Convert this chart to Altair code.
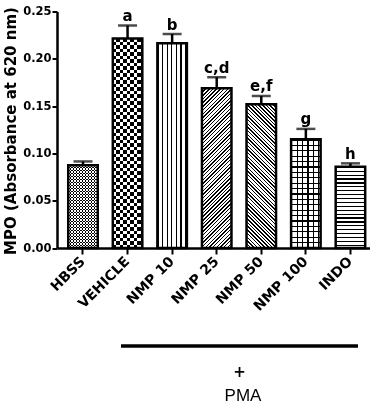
import math
import altair as alt
import pandas as pd

# ---- data -------------------------------------------------------------
groups = ["HBSS", "VEHICLE", "NMP 10", "NMP 25", "NMP 50", "NMP 100", "INDO"]
mpo = [0.0875, 0.2215, 0.2164, 0.1688, 0.1519, 0.1149, 0.0859]
sem = [0.0040, 0.0137, 0.0098, 0.0117, 0.0088, 0.0110, 0.0036]
letters = ["", "a", "b", "c,d", "e,f", "g", "h"]
y_ticks = [0.00, 0.05, 0.10, 0.15, 0.20, 0.25]

# ---- geometry / style -------------------------------------------------
Y_MAX = 0.25
W, H = 313, 236.5
PAD_INNER, PAD_OUTER, ALIGN = 0.338, 0.18, 0.70
STEP = W / (len(groups) - PAD_INNER + 2 * PAD_OUTER)
BW = STEP * (1 - PAD_INNER)
FONT = "DejaVu Sans"

df = pd.DataFrame({
    "group": groups,
    "mpo": mpo,
    "sem": sem,
    "letter": letters,
})
df["top"] = df["mpo"] + df["sem"]


def stripes(w, h, nx, ny, period, dark, ink="black", paper="white"):
    """Hard-edged linear gradient drawing parallel stripes over a w x h box.

    (nx, ny) is the stripe normal in pixel space; the gradient vector is
    expressed in bounding-box units so the stripes keep their angle.
    """
    n = math.hypot(nx, ny)
    nx, ny = nx / n, ny / n
    corners = [0.0, w * nx, h * ny, w * nx + h * ny]
    smin, smax = min(corners), max(corners)
    span = smax - smin
    gx, gy = w * nx / span, h * ny / span
    g2 = gx * gx + gy * gy
    k = (smin / span) / g2
    x1, y1 = gx * k, gy * k
    x2, y2 = x1 + gx / g2, y1 + gy / g2
    stops = []
    s = smin
    while s < smax:
        a = (s - smin) / span
        b = min((s + dark - smin) / span, 1.0)
        c = min((s + period - smin) / span, 1.0)
        stops += [(a, ink), (b, ink), (b, paper), (c, paper)]
        s += period
    return {
        "gradient": "linear",
        "x1": round(x1, 6), "y1": round(y1, 6),
        "x2": round(x2, 6), "y2": round(y2, 6),
        "stops": [{"offset": round(o, 6), "color": col} for o, col in stops],
    }


# fill layers for each bar: list of (gradient, blend)
def fills_for(name, h):
    w = BW
    if name == "HBSS":      # fine checkerboard
        return [(stripes(w, h, 0, 1, 3.0, 1.5), None),
                (stripes(w, h, 1, 0, 3.0, 1.5, ink="white", paper="black"), "difference")]
    if name == "VEHICLE":   # coarse checkerboard
        return [(stripes(w, h, 0, 1, 7.0, 3.5), None),
                (stripes(w, h, 1, 0, 7.0, 3.5, ink="white", paper="black"), "difference")]
    if name == "NMP 10":    # vertical lines
        return [(stripes(w, h, 1, 0, 4.6, 1.3), None)]
    if name == "NMP 25":    # "/" hatching
        return [(stripes(w, h, 1, 1, 2.6, 1.0), None)]
    if name == "NMP 50":    # "\" hatching
        return [(stripes(w, h, 1, -1, 2.6, 1.0), None)]
    if name == "NMP 100":   # square grid
        return [(stripes(w, h, 1, 0, 5.4, 1.2), None),
                (stripes(w, h, 0, 1, 5.4, 1.2, ink="black", paper="white"), "multiply")]
    # INDO: horizontal lines
    return [(stripes(w, h, 0, 1, 3.9, 1.2), None)]


x_axis = alt.Axis(
    title=None, labelAngle=315, labelAlign="right", labelBaseline="middle",
    labelFont=FONT, labelFontWeight="bold", labelFontSize=14, labelColor="black",
    labelPadding=5, tickSize=6, tickWidth=2, tickColor="black",
    domainColor="black", domainWidth=2.5, grid=False,
)
y_axis = alt.Axis(
    values=y_ticks, format=".2f",
    labelFont=FONT, labelFontWeight="bold", labelFontSize=11.5, labelColor="black",
    labelPadding=1, tickSize=5, tickWidth=2, tickColor="black",
    domainColor="black", domainWidth=2.5, grid=False,
    title="MPO (Absorbance at 620 nm)", titleFont=FONT, titleFontWeight="bold",
    titleFontSize=15, titleColor="black", titleAngle=270, titleAlign="center",
    titleBaseline="alphabetic", titleX=-42, titleY=119,
)

x_enc = alt.X("group:N", sort=groups,
              scale=alt.Scale(domain=groups, paddingInner=PAD_INNER,
                              paddingOuter=PAD_OUTER, align=ALIGN),
              axis=x_axis)
y_scale = alt.Scale(domain=[0, Y_MAX], nice=False)

base = alt.Chart(df)
layers = []
for name, value in zip(groups, mpo):
    h = value / Y_MAX * H
    for grad, blend in fills_for(name, h):
        kw = {"fill": grad, "strokeWidth": 0}
        if blend:
            kw["blend"] = blend
        layers.append(
            base.transform_filter(alt.datum.group == name)
            .mark_bar(**kw)
            .encode(x=x_enc, y=alt.Y("mpo:Q", scale=y_scale, axis=y_axis))
        )

outline = base.mark_bar(fill="white", fillOpacity=0, stroke="black", strokeWidth=2.5).encode(
    x=x_enc, y=alt.Y("mpo:Q", scale=y_scale, axis=y_axis))
err = base.mark_rule(color="black", strokeWidth=2.5).encode(
    x=x_enc, y=alt.Y("mpo:Q", scale=y_scale, axis=y_axis), y2="top:Q")
cap = base.mark_tick(color="black", thickness=2.5, size=19).encode(
    x=x_enc, y=alt.Y("top:Q", scale=y_scale, axis=y_axis))
lbl = base.mark_text(font=FONT, fontWeight="bold", fontSize=15, color="black",
                     baseline="alphabetic", dy=-4.5).encode(
    x=x_enc, y=alt.Y("top:Q", scale=y_scale, axis=y_axis), text="letter:N")

# treatment bracket below the category labels
note = alt.Chart(pd.DataFrame({"k": [0]}))
bracket = note.mark_rule(color="black", strokeWidth=3.5).encode(
    x=alt.value(64), x2=alt.value(301), y=alt.value(334.5))
plus = note.mark_text(text="+", font=FONT, fontWeight="bold", fontSize=15,
                      color="black", baseline="middle").encode(
    x=alt.value(182.5), y=alt.value(360.5))
pma = note.mark_text(text="PMA", font="Liberation Sans", fontSize=17,
                     color="black", baseline="middle").encode(
    x=alt.value(186), y=alt.value(384))

chart = alt.layer(*layers, outline, err, cap, lbl, bracket, plus, pma).properties(
    width=W, height=H,
    padding={"left": 57, "top": 11.5, "right": 0, "bottom": 159},
    autosize=alt.AutoSizeParams(type="none"),
    background="white",
).configure_view(strokeWidth=0)

chart.save("out.html", embed_options={"renderer": "svg", "actions": False})
